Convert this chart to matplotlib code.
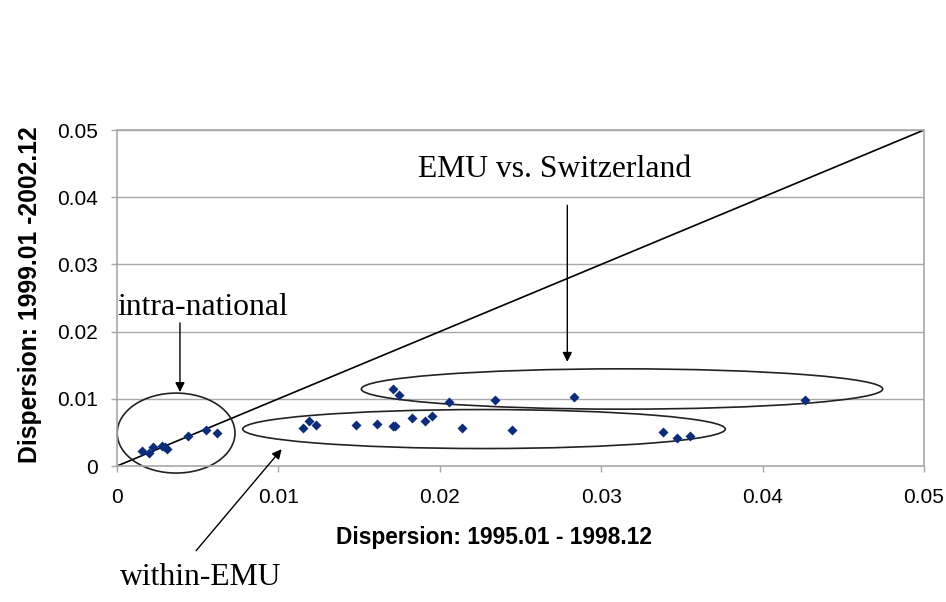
import numpy as np
import matplotlib
matplotlib.use("Agg")
import matplotlib.pyplot as plt
from matplotlib.patches import Ellipse

# dispersion before (x) and after (y) the euro
disp_9598 = [0.00157, 0.0020, 0.00225, 0.0028, 0.0030, 0.0031, 0.0044, 0.0055, 0.0062,
             0.0115, 0.0119, 0.0123, 0.0148, 0.0161, 0.0171, 0.0172, 0.0183, 0.0191,
             0.0195, 0.0214, 0.0245, 0.0338, 0.0347, 0.0355,
             0.0171, 0.0175, 0.0206, 0.0234, 0.0283, 0.0426]
disp_9902 = [0.00223, 0.0019, 0.0029, 0.0030, 0.0028, 0.0025, 0.0045, 0.0054, 0.0049,
             0.0056, 0.0067, 0.0061, 0.0061, 0.0062, 0.0060, 0.0059, 0.0071, 0.0067,
             0.0074, 0.0057, 0.0054, 0.0050, 0.0041, 0.0044,
             0.0114, 0.0105, 0.0095, 0.0098, 0.0102, 0.0098]

ticks = [0, 0.01, 0.02, 0.03, 0.04, 0.05]
tick_labels = ["0", "0.01", "0.02", "0.03", "0.04", "0.05"]

fig = plt.figure(figsize=(9.46, 6.02), dpi=100)
ax = fig.add_axes([0.1237, 0.2259, 0.853, 0.5581])

grid_col = "#a8a8a8"
for t in ticks[1:]:
    ax.axhline(t, color=grid_col, lw=1, zorder=0)

ax.plot([0, 0.05], [0, 0.05], color="black", lw=1.2, zorder=2)
ax.scatter(disp_9598, disp_9902, marker="D", s=26, color="#0b2c7c", zorder=3, linewidths=0)

# group ellipses
ell_kw = dict(fill=False, edgecolor="#222222", lw=1.2, clip_on=False, zorder=2)
ax.add_patch(Ellipse((0.00366, 0.0049), 0.0073, 0.0119, **ell_kw))
ax.add_patch(Ellipse((0.02274, 0.0055), 0.0299, 0.0058, **ell_kw))
ax.add_patch(Ellipse((0.03129, 0.01146), 0.0323, 0.0060, **ell_kw))

ax.set_xlim(0, 0.05)
ax.set_ylim(0, 0.05)
ax.set_xticks(ticks)
ax.set_xticklabels(tick_labels)
ax.set_yticks(ticks)
ax.set_yticklabels(tick_labels)
for sp in ax.spines.values():
    sp.set_color(grid_col)
    sp.set_linewidth(1.2)
ax.tick_params(axis="both", color=grid_col, length=4, width=1, labelsize=15,
               labelfontfamily="Liberation Sans")
ax.tick_params(axis="x", pad=12)
ax.tick_params(axis="y", pad=9.5)

ax.set_xlabel("Dispersion: 1995.01 - 1998.12", fontsize=16.4, fontweight="bold",
              family="Liberation Sans")
ax.set_ylabel("Dispersion: 1999.01 -2002.12", fontsize=17.8, fontweight="bold",
              family="Liberation Sans")
ax.xaxis.set_label_coords(0.467, -0.214)
ax.yaxis.set_label_coords(-0.108, 0.509)
ax.xaxis.label.set_va("center")
ax.yaxis.label.set_va("center")

serif = dict(family="Liberation Serif", fontsize=22.8, color="black")
arrow = dict(arrowstyle="-|>", color="black", lw=1, mutation_scale=14, shrinkA=0, shrinkB=0)

ax.text(0.02714, 0.0441, "EMU vs. Switzerland", ha="center", va="center", **serif)
ax.annotate("", xy=(0.0279, 0.0155), xytext=(0.0279, 0.0388),
            arrowprops=arrow, annotation_clip=False)

ax.text(0.00005, 0.0236, "intra-national", ha="left", va="center", **serif)
ax.annotate("", xy=(0.0039, 0.0110), xytext=(0.0039, 0.0213),
            arrowprops=arrow, annotation_clip=False)

ax.text(0.0002, -0.0166, "within-EMU", ha="left", va="center", **serif)
ax.annotate("", xy=(0.0102, 0.0025), xytext=(0.0049, -0.0126),
            arrowprops=arrow, annotation_clip=False)

fig.savefig("out.png", dpi=100, facecolor="white")
